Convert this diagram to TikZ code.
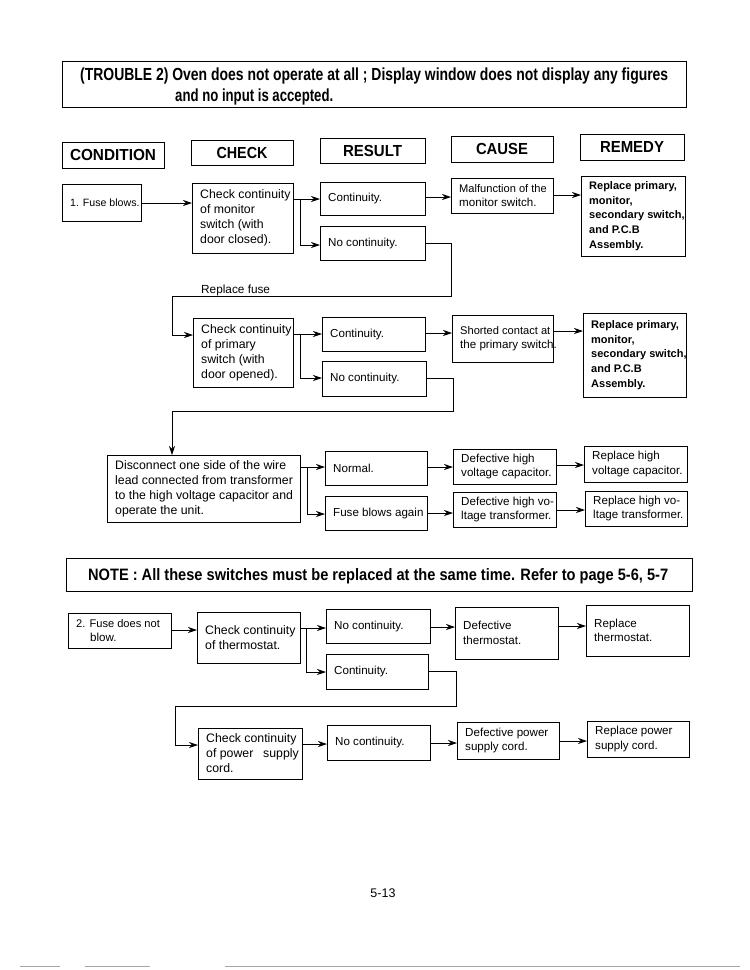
\documentclass[tikz,border=0pt]{standalone}
\usepackage{fontspec}
\usepackage{graphicx}
\setmainfont{Liberation Sans}
\usetikzlibrary{arrows.meta}
\tikzset{
 box/.style={draw, line width=0.9pt, inner sep=0pt, outer sep=0pt},
 txt/.style={anchor=west, align=left, inner sep=0pt, font=\fontsize{11.6}{14.5}\selectfont},
 chk/.style={font=\fontsize{12.3}{15}\selectfont},
 bld/.style={font=\fontsize{11}{14.7}\selectfont\bfseries},
 arr/.style={-{Stealth[length=9pt,width=6pt]}, line width=0.8pt},
 ln/.style={line width=0.8pt},
 hdr/.style={inner sep=0pt},
}
% \bx[text style]{x1}{y1}{x2}{y2}{name}{text}
\newcommand\bx[7][]{%
  \node[box,minimum width={(#4-#2)*1pt},minimum height={(#5-#3)*1pt}] (#6) at ({(#2+#4)/2},{(#3+#5)/2}) {};
  \node[txt,#1] (#6t) at ([xshift=8pt]#6.west) {#7};}
\newcommand\hfit[3]{\resizebox{#1pt}{\height}{\fontsize{#2}{#2}\selectfont\bfseries #3}}
\begin{document}
\begin{tikzpicture}[x=1pt,y=-1pt]
\fill[white] (0,0) rectangle (750,970);
\useasboundingbox (0,0) rectangle (750,970);

% title
\node[box,minimum width=624pt,minimum height=46pt] (title) at (374,84) {};
\node[hdr,anchor=west] (t1) at (80,76) {\hfit{588}{17.5}{(TROUBLE 2) Oven does not operate at all ; Display window does not display any figures}};
\node[hdr,anchor=west] (t2) at (175,97) {\hfit{158}{17.5}{and no input is accepted.}};

% headers
\node[box,minimum width=102pt,minimum height=26pt] (hcond) at (113,155) {\hfit{86}{16}{CONDITION}};
\node[box,minimum width=102pt,minimum height=25pt] (hchk) at (242,152.5) {\hfit{51}{16}{CHECK}};
\node[box,minimum width=105pt,minimum height=25pt] (hres) at (372.5,150.5) {\hfit{59}{16}{RESULT}};
\node[box,minimum width=102pt,minimum height=26pt] (hcau) at (502,149) {\hfit{52}{16}{CAUSE}};
\node[box,minimum width=104pt,minimum height=26pt] (hrem) at (632,147) {\hfit{64}{16}{REMEDY}};

% section 1
\bx{62}{184}{141}{221}{cond1}{\fontsize{10.6}{13}\selectfont 1. Fuse blows.}
\bx[chk]{192}{183}{293}{253}{chk1}{Check continuity\\of monitor\\switch (with\\door closed).}
\bx{320}{182}{425}{215}{r1a}{Continuity.}
\bx{320}{226}{425}{260}{r1b}{No continuity.}
\bx{451}{178}{553}{213}{c1}{\fontsize{11.1}{14.5}\selectfont Malfunction of the\\monitor switch.}
\bx[bld]{581}{176}{685}{256}{m1}{Replace primary,\\monitor,\\secondary switch,\\and P.C.B\\Assembly.}

\draw[arr] (cond1.east |- 0,203) -- (chk1.west |- 0,203);
\coordinate (b1) at (300,199);
\draw[ln] (chk1.east |- b1) -- (b1);
\draw[arr] (b1) -- (r1a.west |- b1);
\draw[arr] (b1) |- (r1b.west |- 0,245);
\draw[arr] (r1a.east |- 0,197) -- (c1.west |- 0,197);
\draw[arr] (c1.east |- 0,195) -- (m1.west |- 0,195);
\coordinate (k1) at (451,296);
\coordinate (k2) at (172,296);
\draw[ln] (r1b.east |- 0,243) -| (k1) -- (k2);
\node[txt,anchor=base west,font=\fontsize{11.8}{14}\selectfont] (rf) at (201,293) {Replace fuse};

% section 2
\bx[chk]{193}{318}{293}{387}{chk2}{Check continuity\\of primary\\switch (with\\door opened).}
\bx{322}{317}{425}{351}{r2a}{Continuity.}
\bx{322}{361}{426}{396}{r2b}{No continuity.}
\bx{452}{315}{553}{362}{c2}{\fontsize{11.1}{15}\selectfont Shorted contact at\\the primary switch.}
\bx[bld]{583}{313}{686}{397}{m2}{Replace primary,\\monitor,\\secondary switch,\\and P.C.B\\Assembly.}

\draw[arr] (k2) |- (chk2.west |- 0,335);
\coordinate (b2) at (300,334);
\draw[ln] (chk2.east |- b2) -- (b2);
\draw[arr] (b2) -- (r2a.west |- b2);
\draw[arr] (b2) |- (r2b.west |- 0,378);
\draw[arr] (r2a.east |- 0,333) -- (c2.west |- 0,333);
\draw[arr] (c2.east |- 0,331) -- (m2.west |- 0,331);
\coordinate (k3) at (453,411);
\coordinate (k4) at (172,411);
\draw[ln] (r2b.east |- 0,378) -| (k3) -- (k4);

% section 3
\bx[chk]{107}{455}{300}{522}{dis}{Disconnect one side of the wire\\lead connected from transformer\\to the high voltage capacitor and\\operate the unit.}
\bx{325}{451}{427}{485}{n3a}{Normal.}
\bx{325}{496}{427}{530}{n3b}{Fuse blows again}
\bx{453}{449}{556}{484}{c3a}{Defective high\\voltage capacitor.}
\bx{453}{492}{556}{527}{c3b}{Defective high vo-\\ltage transformer.}
\bx{584}{446}{687}{482}{m3a}{Replace high\\voltage capacitor.}
\bx{585}{491}{687}{526}{m3b}{Replace high vo-\\ltage transformer.}

\draw[arr] (k4) -- (k4 |- dis.north);
\coordinate (b3) at (307,467);
\draw[ln] (dis.east |- b3) -- (b3);
\draw[arr] (b3) -- (n3a.west |- b3);
\draw[arr] (b3) |- (n3b.west |- 0,514);
\draw[arr] (n3a.east |- 0,467) -- (c3a.west |- 0,467);
\draw[arr] (n3b.east |- 0,513) -- (c3b.west |- 0,513);
\draw[arr] (c3a.east |- 0,465) -- (m3a.west |- 0,465);
\draw[arr] (c3b.east |- 0,510) -- (m3b.west |- 0,510);

% note
\node[box,minimum width=626pt,minimum height=33pt] (note) at (379,574.5) {};
\node[hdr,anchor=west] (notet) at (88,576) {\hfit{580}{16.5}{NOTE : All these switches must be replaced at the same time. Refer to page 5-6, 5-7}};

% section 4
\bx{68}{613}{171}{648}{cond2}{\fontsize{11.1}{14.5}\selectfont 2. Fuse does not\\\hspace*{14pt}blow.}
\bx[chk]{197}{612}{300}{663}{chk3}{Check continuity\\of thermostat.}
\bx{326}{609}{430}{643}{r4a}{No continuity.}
\bx{326}{654}{428}{689}{r4b}{Continuity.}
\bx{455}{607}{558}{659}{c4}{Defective\\thermostat.}
\bx{586}{605}{689}{656}{m4}{Replace\\thermostat.}

\draw[arr] (cond2.east |- 0,630) -- (chk3.west |- 0,630);
\coordinate (b4) at (306,628);
\draw[ln] (chk3.east |- b4) -- (b4);
\draw[arr] (b4) -- (r4a.west |- b4);
\draw[arr] (b4) |- (r4b.west |- 0,672);
\draw[arr] (r4a.east |- 0,627) -- (c4.west |- 0,627);
\draw[arr] (c4.east |- 0,626) -- (m4.west |- 0,626);

\bx[chk]{198}{728}{302}{779}{chk4}{Check continuity\\of power\hspace{0.8em}supply\\cord.}
\bx{327}{725}{430}{760}{r5}{No continuity.}
\bx{457}{722}{559}{759}{c5}{Defective power\\supply cord.}
\bx{587}{721}{689}{757}{m5}{Replace power\\supply cord.}

\coordinate (k5) at (456,706);
\coordinate (k6) at (175,706);
\draw[ln] (r4b.east |- 0,671) -| (k5) -- (k6);
\draw[arr] (k6) |- (chk4.west |- 0,745);
\draw[arr] (chk4.east |- 0,744) -- (r5.west |- 0,744);
\draw[arr] (r5.east |- 0,743) -- (c5.west |- 0,743);
\draw[arr] (c5.east |- 0,741) -- (m5.west |- 0,741);

% page number
\node[font=\fontsize{12.5}{14}\selectfont] (pg) at (383,893) {5-13};

% scan edge
\draw[gray!70, line width=0.6pt] (20,966) -- (60,966) (85,966) -- (150,966) (225,966) -- (740,966);
\end{tikzpicture}
\end{document}
